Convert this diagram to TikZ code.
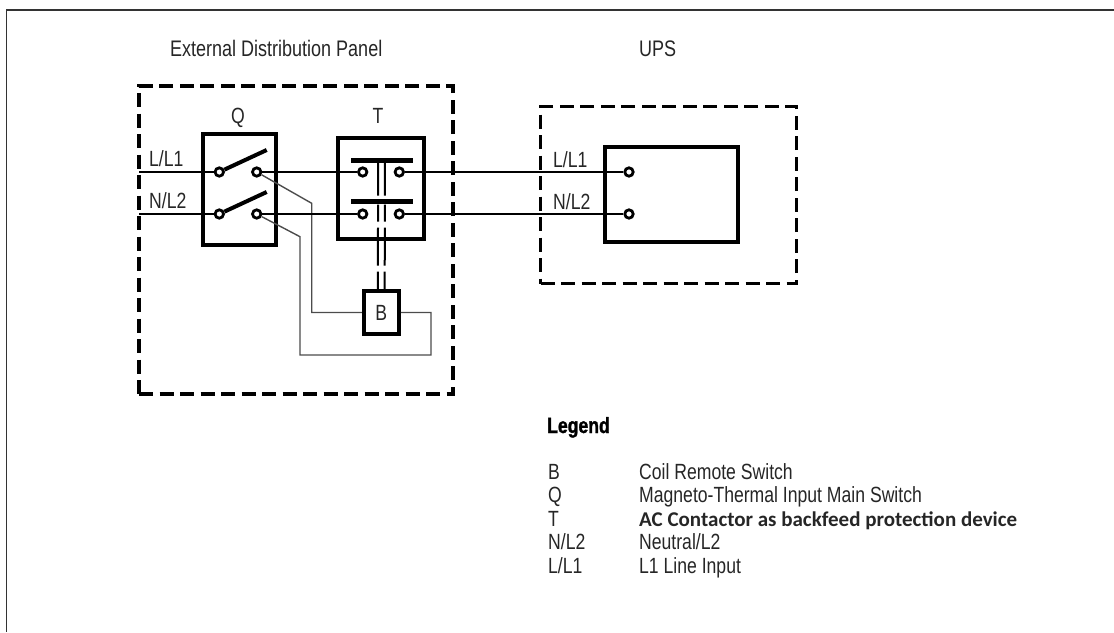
\documentclass[tikz,border=0pt]{standalone}
\usepackage{fontspec}
\usepackage{tikz}
\usetikzlibrary{positioning}
\newfontfamily\condfont[FakeStretch=0.8]{Liberation Sans}
\newfontfamily\condbold[FakeStretch=0.8, FakeBold=1.2]{Liberation Sans Bold}
\newfontfamily\legendfont{Carlito}
\tikzstyle{connector} = [line width=1.8pt]
\tikzstyle{wire} = [line width=1.4pt, black!70]
\tikzstyle{device} = [draw, line width=4pt, inner sep=0pt]
\tikzstyle{panel} = [draw, line width=3.5pt, dash pattern=on 14pt off 6.5pt, inner sep=0pt]
\tikzstyle{terminal} = [circle, draw, fill=white, line width=2.8pt, minimum size=8.4pt, inner sep=0pt]
\tikzstyle{blade} = [line width=4pt]
\tikzstyle{bar} = [fill=black, minimum width=62pt, minimum height=5pt, inner sep=0pt]
\tikzstyle{link} = [line width=2pt, dash pattern=on 33pt off 9pt on 17pt off 6pt on 38pt off 6pt]
\tikzstyle{tag} = [inner sep=0pt, text=black!85, font=\condfont\fontsize{22}{22}\selectfont]

\begin{document}
\begin{tikzpicture}[x=1pt, y=-1pt]
                \useasboundingbox (0,0) rectangle (1114,632);
                \coordinate (corner) at (6.5,10);
                \draw [line width=1.3pt, black!80] (1114,10) -- (corner) -- (6.5,632);

                \node (edp) [panel, minimum width=314pt, minimum height=308pt] at (296,240) {};
                \node (upsbox) [panel, minimum width=256pt, minimum height=177pt] at (668.5,195) {};
                \node (edptitle) [tag, anchor=base west, font=\condfont\fontsize{22.5}{22.5}\selectfont] at (170,56) {External Distribution Panel};
                \node (upstitle) [tag, anchor=base west, font=\condfont\fontsize{22.5}{22.5}\selectfont] at (639,56) {UPS};

                \node (Q) [device, minimum width=73pt, minimum height=111pt] at (239.5,189.5) {};
                \node (T) [device, minimum width=86pt, minimum height=101pt] at (381,188.5) {};
                \node (B) [device, minimum width=35pt, minimum height=43pt, tag] at (381.3,312.5) {B};
                \node (ups) [device, minimum width=133pt, minimum height=95pt] at (671.4,194.5) {};
                \node (Qlabel) [tag, anchor=base] at (238,123) {Q};
                \node (Tlabel) [tag, anchor=base] at (378,123) {T};

                \node (inL1) [tag, anchor=base west] at (149,166) {L/L1};
                \node (inN) [tag, anchor=base west] at (149,208) {N/L2};
                \node (upsL1) [tag, anchor=base west] at (553,167) {L/L1};
                \node (upsN) [tag, anchor=base west] at (553,209) {N/L2};

                \coordinate (feedL1) at (139,172);
                \coordinate (feedN) at (139,214);
                \node (q1a) [terminal] at (219.3,172) {};
                \node (q1b) [terminal] at (256.7,172) {};
                \node (q2a) [terminal] at (219.3,214) {};
                \node (q2b) [terminal] at (256.7,214) {};
                \node (t1a) [terminal] at (362.7,172) {};
                \node (t1b) [terminal] at (399.3,172) {};
                \node (t2a) [terminal] at (362.7,214) {};
                \node (t2b) [terminal] at (399.3,214) {};
                \node (u1) [terminal] at (629,172) {};
                \node (u2) [terminal] at (629,214) {};
                \coordinate (tip1) at (266.7,150);
                \coordinate (tip2) at (266.7,192);

                \draw [wire] (q1b) -- (311.7,203.3) |- (B.west);
                \draw [wire] (B.east) -| (431,355) -| (300,236.7) -- (q2b);

                \draw [connector] (feedL1) -- (q1a);
                \draw [connector] (feedN) -- (q2a);
                \draw [connector, line width=1.6pt] (q1b) -- (t1a);
                \draw [connector, line width=1.6pt] (q2b) -- (t2a);
                \draw [connector] (t1b) -- (u1);
                \draw [connector] (t2b) -- (u2);
                \draw [blade] (q1a) -- (tip1);
                \draw [blade] (q2a) -- (tip2);

                \node (bar1) [bar] at (381.5,160) {};
                \draw [link] ([xshift=-3.4pt]bar1.south) -- ([xshift=-3.4pt]B.north);
                \draw [link] ([xshift=3.4pt]bar1.south) -- ([xshift=3.4pt]B.north);
                \node (bar2) [bar] at (381.5,201.5) {};

                \node (legend) [tag, anchor=base west, text=black, font=\condbold\fontsize{22}{22}\selectfont] at (547,433) {Legend};
                \foreach \key/\entry [count=\i] in {B/Coil Remote Switch, Q/Magneto-Thermal Input Main Switch, T/{\legendfont\bfseries\fontsize{21}{21}\selectfont AC Contactor as backfeed protection device}, {N/L2}/{Neutral/L2}, {L/L1}/{L1 Line Input}} {
                    \node (key\i) [tag, anchor=base west] at (548,{479+23.5*(\i-1)}) {\key};
                    \node (entry\i) [tag, anchor=base west] at (639,{479+23.5*(\i-1)}) {\entry};
                }
            \end{tikzpicture}
\end{document}
